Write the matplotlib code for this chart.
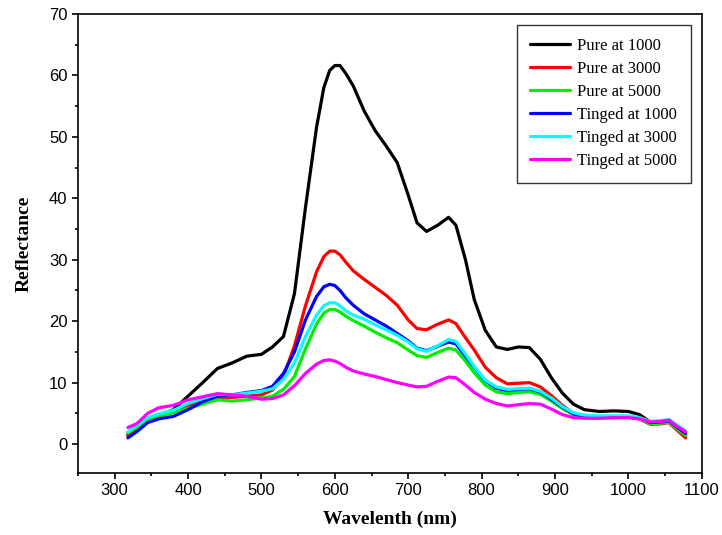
import matplotlib
matplotlib.use("Agg")
import matplotlib.pyplot as plt
from matplotlib.ticker import MultipleLocator

wavelength = [318, 330, 345, 360, 380, 400, 420, 440, 460, 480, 500, 515, 530, 545, 560, 575, 585, 593, 600,
              607, 615, 625, 640, 655, 670, 685, 700, 712, 725, 740, 755, 765, 778, 790, 805, 820, 835, 850,
              865, 880, 895, 910, 925, 940, 960, 980, 1000, 1015, 1030, 1045, 1055, 1065, 1078]

pure_1000 = [1.5, 2.5, 3.8, 4.6, 5.6, 7.8, 10.0, 12.3, 13.2, 14.3, 14.6, 15.8, 17.5, 24.5, 38.5, 51.5, 58.0, 60.8, 61.6,
             61.6, 60.3, 58.3, 54.2, 51.0, 48.5, 45.8, 40.5, 36.0, 34.6, 35.6, 36.9, 35.6, 30.0, 23.5, 18.5, 15.8, 15.4, 15.8,
             15.7, 13.8, 10.8, 8.3, 6.5, 5.6, 5.3, 5.4, 5.3, 4.8, 3.6, 3.6, 3.8, 2.7, 1.3]
pure_3000 = [1.3, 2.4, 3.8, 4.6, 5.3, 6.3, 7.0, 7.6, 7.6, 7.8, 8.0, 8.8, 11.0, 16.0, 22.5, 28.0, 30.5, 31.4, 31.4,
             30.8, 29.6, 28.2, 26.8, 25.5, 24.2, 22.6, 20.2, 18.8, 18.6, 19.5, 20.2, 19.6, 17.3, 15.3, 12.5, 10.8, 9.8, 9.9,
             10.0, 9.3, 7.9, 6.3, 5.0, 4.4, 4.3, 4.3, 4.4, 4.1, 3.2, 3.3, 3.5, 2.4, 1.0]
pure_5000 = [1.8, 2.7, 4.0, 4.6, 5.1, 5.8, 6.5, 7.2, 7.0, 7.2, 7.5, 7.8, 8.9, 11.0, 15.5, 19.5, 21.3, 21.9, 21.9,
             21.5, 20.8, 20.1, 19.2, 18.2, 17.3, 16.5, 15.3, 14.4, 14.1, 14.9, 15.6, 15.3, 13.5, 11.6, 9.6, 8.5, 8.2, 8.4,
             8.5, 8.1, 7.0, 5.8, 4.8, 4.4, 4.3, 4.3, 4.4, 4.1, 3.3, 3.4, 3.6, 2.6, 1.4]
tinged_1000 = [1.0, 2.0, 3.5, 4.1, 4.5, 5.6, 6.9, 7.8, 8.0, 8.4, 8.7, 9.4, 11.5, 15.0, 20.2, 24.0, 25.6, 26.0, 25.8,
               25.0, 23.8, 22.6, 21.2, 20.2, 19.2, 18.0, 16.8, 15.6, 15.2, 15.9, 16.6, 16.3, 14.3, 12.5, 10.3, 9.1, 8.7, 8.9,
               9.0, 8.5, 7.3, 6.0, 4.9, 4.5, 4.4, 4.4, 4.5, 4.2, 3.5, 3.6, 3.8, 2.9, 1.7]
tinged_3000 = [2.0, 3.0, 4.3, 4.9, 5.5, 6.6, 7.4, 8.1, 8.0, 8.3, 8.6, 9.0, 10.5, 13.2, 17.5, 21.0, 22.5, 23.0, 23.0,
               22.5, 21.7, 21.0, 20.3, 19.4, 18.6, 17.7, 16.6, 15.5, 15.1, 16.0, 17.0, 16.7, 14.6, 12.6, 10.4, 9.3, 8.9, 9.0,
               9.1, 8.6, 7.5, 6.1, 5.1, 4.7, 4.6, 4.6, 4.6, 4.3, 3.7, 3.8, 4.0, 3.2, 2.1]
tinged_5000 = [2.7, 3.3, 5.0, 5.9, 6.3, 7.2, 7.7, 8.2, 8.0, 7.8, 7.3, 7.4, 8.0, 9.5, 11.5, 13.0, 13.6, 13.7, 13.5,
               13.1, 12.5, 11.9, 11.4, 11.0, 10.5, 10.0, 9.6, 9.3, 9.4, 10.2, 10.9, 10.8, 9.6, 8.4, 7.3, 6.6, 6.2, 6.4,
               6.6, 6.5, 5.7, 4.8, 4.3, 4.2, 4.2, 4.3, 4.3, 4.1, 3.6, 3.7, 3.9, 3.0, 2.0]

series = [
    ("Pure at 1000", pure_1000, "#000000"),
    ("Pure at 3000", pure_3000, "#ff0000"),
    ("Pure at 5000", pure_5000, "#00ee00"),
    ("Tinged at 1000", tinged_1000, "#0000ff"),
    ("Tinged at 3000", tinged_3000, "#00ffff"),
    ("Tinged at 5000", tinged_5000, "#ff00ff"),
]

fig = plt.figure(figsize=(7.22, 5.35), dpi=100)
ax = fig.add_axes([0.108, 0.116, 0.864, 0.858])

for label, vals, color in series:
    ax.plot(wavelength, vals, color=color, lw=2.3, label=label, solid_capstyle="round", solid_joinstyle="round")

ax.set_xlim(250, 1100)
ax.set_ylim(-4.7, 70)
ax.xaxis.set_major_locator(MultipleLocator(100))
ax.xaxis.set_minor_locator(MultipleLocator(50))
ax.yaxis.set_major_locator(MultipleLocator(10))
ax.yaxis.set_minor_locator(MultipleLocator(5))
ax.set_xticks([300, 400, 500, 600, 700, 800, 900, 1000, 1100])
ax.tick_params(axis="both", which="major", direction="out", length=4, width=1.2,
               top=False, right=False, labelsize=12)
ax.tick_params(axis="both", which="minor", direction="out", length=2.5, width=1.2,
               top=False, right=False)
for lab in ax.get_xticklabels() + ax.get_yticklabels():
    lab.set_fontfamily("Liberation Sans")
for sp in ax.spines.values():
    sp.set_linewidth(1.2)

ax.set_xlabel("Wavelenth (nm)", fontfamily="Liberation Serif", fontweight="bold", fontsize=14, labelpad=9)
ax.set_ylabel("Reflectance", fontfamily="Liberation Serif", fontweight="bold", fontsize=14, labelpad=12)

leg = ax.legend(loc="upper right", bbox_to_anchor=(0.982, 0.976), prop={"family": "Liberation Serif", "size": 12},
                frameon=True, fancybox=False, edgecolor="black", handlelength=2.4, handletextpad=0.45,
                borderpad=0.8, labelspacing=0.42, borderaxespad=0)
leg.get_frame().set_linewidth(1.0)

fig.savefig("out.png", dpi=100)
